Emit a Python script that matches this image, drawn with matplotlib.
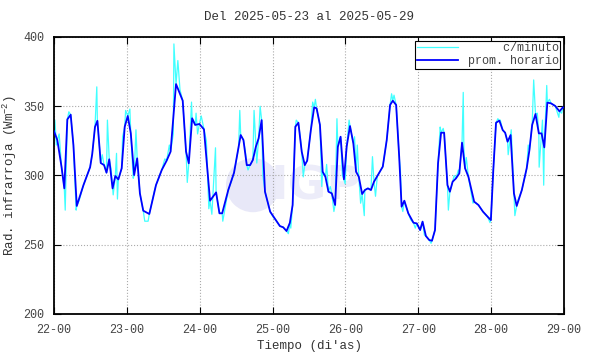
import numpy as np
import matplotlib.pyplot as plt
from matplotlib.patches import Ellipse

# hourly mean (hours since 2025-05-22 00:00, W/m2)
hora_h = [0, 1.1, 2.5, 3.4, 4.4, 5.5, 6.4, 7.5, 9.7, 11.9, 12.6, 13.5, 14.3, 15.4, 16.5, 17.3,
          18.2, 19.3, 20.2, 21.2, 22.3, 23.3, 24.3, 25.3, 26.4, 27.4, 28.3, 29.4, 31.4, 33.6,
          35.5, 37.1, 38.4, 40.2, 42.4, 43.5, 44.4, 45.5, 46.5, 47.9, 49.4, 51.4, 53.4, 54.5,
          55.4, 57.4, 59.3, 61.5, 62.4, 63.5, 64.6, 65.5, 66.5, 67.4, 68.4, 69.5, 71.2, 73.1,
          74.4, 75.5, 76.6, 77.7, 78.6, 79.5, 80.5, 81.6, 82.6, 83.4, 84.6, 85.7, 86.5, 87.6,
          88.5, 89.4, 90.4, 91.5, 92.6, 93.5, 94.4, 95.5, 96.4, 97.5, 98.6, 99.5, 100.4, 101.5,
          102.4, 103.4, 104.4, 105.4, 106.5, 108.3, 109.6, 110.7, 111.6, 112.7, 113.7, 114.5,
          115.4, 116.7, 118.4, 119.5, 120.6, 121.4, 122.5, 123.6, 124.5, 125.5, 126.5, 127.5,
          128.5, 129.6, 130.4, 131.3, 132.4, 133.5, 134.4, 135.4, 136.5, 138.4, 139.8, 141.3,
          142.8, 143.9, 144.7, 145.6, 146.7, 147.8, 148.6, 149.4, 150.4, 151.5, 152.4, 154.1,
          155.7, 156.6, 157.5, 158.6, 159.7, 160.6, 161.5, 162.5, 163.7, 165.1, 166.5, 167.6, 168]
hora_v = [332, 325.6, 306, 290.7, 340.5, 343.9, 322, 278, 293, 306, 315.5, 335, 339.5, 309, 307.5, 302,
          311.7, 290.7, 299.6, 297.2, 305.2, 335.2, 343, 330.4, 300.3, 312.4, 287.1, 274.6, 272.2, 293.1,
          304, 310.7, 317.2, 366, 354, 317.2, 308.8, 341.3, 336.5, 337.2, 333.3, 281.8, 287.8, 272.7,
          272.7, 289.5, 302, 329.2, 325.6, 307.5, 307.5, 311.2, 320.8, 326.8, 340, 288.3, 273.9, 267.8,
          263.5, 262.6, 259.9, 265.9, 278.7, 335.2, 338.1, 317.2, 307.5, 310.7, 332.8, 349.2, 348.5, 336.5,
          302.7, 299.1, 288.3, 287.1, 278.7, 320.8, 328, 297.2, 320.8, 335.7, 323.2, 302.7, 299.1, 286.6,
          289.5, 290.7, 289.5, 295.5, 299.6, 306.4, 325.6, 350.9, 354, 350.9, 313.6, 277.5,
          281.8, 272.7, 265.9, 265.4, 260.6, 266.7, 256.3, 253.4, 252.9, 260.6, 308.8, 330.9,
          330.9, 293.1, 288.3, 295.5, 297.9, 301.5, 323.7, 305.2, 299.1, 281.1, 278.7, 273.9,
          270.3, 267.8, 303.9, 338.1, 339.6, 332.8, 330.9, 324.4, 329.2, 287.1, 278, 289.5,
          305.2, 318.4, 336.5, 344.4, 330.4, 330.4, 320.3, 352.6, 352.1, 350.2, 346.3, 349.2, 349]

# per-minute peaks/dips
pico_h = [0.3, 0.8, 1.7, 3.7, 4.9, 7.3, 8.3, 14.1, 15.9, 17.6, 18.8, 19.5, 20.6, 20.9, 22.6, 23.6,
          25.0, 26.1, 27.0, 27.9, 28.9, 29.9, 31.0, 33.2, 36.5, 38.0, 39.3, 39.5, 40.8, 41.5, 42.8,
          43.9, 45.3, 46.8, 47.3, 48.5, 50.2, 51.0, 52.0, 53.2, 55.6, 58.5, 60.8, 61.2, 63.0, 63.9,
          65.9, 66.8, 67.9, 68.8, 72.2, 77.2, 78.0, 79.8, 81.2, 82.1, 85.2, 86.1, 88.2, 89.8, 91.0,
          92.2, 93.2, 95.0, 95.9, 97.2, 99.0, 99.9, 101.0, 102.2, 104.9, 105.9, 111.2, 112.0, 114.1,
          114.9, 117.5, 119.0, 122.0, 124.2, 127.2, 128.2, 129.9, 131.8, 133.2, 134.8, 135.0, 135.8,
          138.0, 143.6, 146.2, 147.0, 149.6, 150.6, 151.8, 152.8, 156.2, 158.0, 158.3, 159.2, 159.8,
          160.9, 161.3, 162.3, 163.2, 166.3, 167.2]
pico_v = [340, 322, 330, 275, 346, 275, 282, 364, 315, 340, 305, 286, 316, 283, 328, 347,
          348, 298, 333, 299, 280, 267, 267, 290, 312, 322, 330, 395, 383, 362, 340,
          295, 353, 345, 330, 343, 325, 276, 272, 320, 267, 296, 320, 347, 318, 304,
          347, 309, 350, 300, 270, 258, 262, 340, 326, 299, 353, 355, 292, 308, 292,
          274, 341, 300, 294, 340, 328, 322, 280, 271, 313.6, 285, 359, 358, 304,
          274, 268, 262, 257, 251, 335, 334, 275, 300, 304, 360, 320, 313,
          280, 266, 341, 340, 315, 333, 271, 282, 322, 369, 357, 345, 306,
          340, 293, 365, 355, 342, 345]

plt.rcParams['font.family'] = ['Liberation Mono', 'DejaVu Sans Mono']
plt.rcParams['mathtext.fontset'] = 'custom'
plt.rcParams['mathtext.rm'] = 'Liberation Mono'
plt.rcParams['mathtext.it'] = 'Liberation Mono'

# day axis
t_hora = 22 + np.array(hora_h) / 24
orden = np.argsort(hora_h + pico_h, kind='stable')
t_min = 22 + np.array(hora_h + pico_h)[orden] / 24
v_min = np.array(hora_v + pico_v)[orden]

fig = plt.figure(figsize=(5.9, 3.54), dpi=100)
ax = fig.add_axes([0.0915, 0.113, 0.8645, 0.7825])

# faint watermark
ax.add_patch(Ellipse((24.73, 293), 0.74, 39, color='#e8e8f8', zorder=0, lw=0))
ax.text(25.6, 292, 'IGP', color='#ececf9', fontsize=34, fontweight='bold',
        family='DejaVu Sans', ha='center', va='center', zorder=0)

ax.plot(t_min, v_min, color='#40ffff', lw=0.9, label='     c/minuto', zorder=2)
ax.plot(t_hora, hora_v, color='#0000ff', lw=1.3, label='prom. horario', zorder=3)

ax.set_xlim(22, 29)
ax.set_ylim(200, 400)
ax.set_xticks(range(22, 30))
ax.set_xticklabels(['%d-00' % d for d in range(22, 30)])
ax.set_yticks([200, 250, 300, 350, 400])
ax.grid(True, linestyle=':', color='#aaaaaa', lw=0.8)
ax.tick_params(direction='in', top=True, right=True, length=5, labelsize=8.5,
               colors='black', labelcolor='#444444', pad=7)
for s in ax.spines.values():
    s.set_linewidth(1.3)

ax.set_title('Del 2025-05-23 al 2025-05-29', fontsize=9, color='#333333', pad=12)
ax.set_xlabel("Tiempo (di'as)", fontsize=9, color='#333333', labelpad=3)
ax.set_ylabel('Rad. infrarroja (Wm$^{-2}$)', fontsize=9, color='#333333')
ax.yaxis.set_label_coords(-0.068, 0.5)

leg = ax.legend(loc='upper right', fontsize=8.5, fancybox=False, framealpha=1,
                edgecolor='black', borderaxespad=0.3, handlelength=3.5,
                borderpad=0.15, labelspacing=0.1, handletextpad=0.8)
leg.get_frame().set_linewidth(0.8)
for txt in leg.get_texts():
    txt.set_color('#444444')

fig.savefig('out.png', dpi=100)
